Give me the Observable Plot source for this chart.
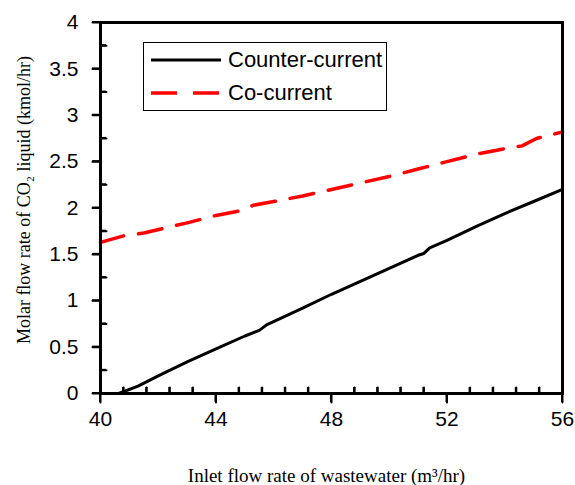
<!DOCTYPE html>
<html><head><meta charset="utf-8">
<script src="https://cdn.jsdelivr.net/npm/d3@7"></script>
<script src="https://cdn.jsdelivr.net/npm/@observablehq/plot@0.6"></script>
<style>
body{margin:0;background:#fff;}
#wrap{position:relative;width:575px;height:485px;}
#legend{position:absolute;left:143px;top:42px;width:244px;height:69px;box-sizing:border-box;border:1.5px solid #000;background:#fff;font-family:"Liberation Sans",Arial,sans-serif;font-size:22px;color:#000;}
#legend .row{position:absolute;left:7px;height:24px;display:flex;align-items:center;}
#legend svg{margin-right:7px;}
</style>
</head><body>
<div id="wrap"></div>
<script>
// Series data
const counterX = [40.63, 41.3, 42, 43, 44, 45, 45.5, 45.75, 47, 48, 49, 50, 51, 51.2, 51.4, 52, 53, 54, 55, 56];
const counterY = [0, 0.08, 0.19, 0.34, 0.48, 0.62, 0.68, 0.74, 0.92, 1.07, 1.21, 1.35, 1.49, 1.51, 1.57, 1.65, 1.80, 1.94, 2.07, 2.20];
const coX = [40, 40.8, 41.5, 42.3, 43, 44, 44.85, 45.3, 46, 47, 48, 49, 50, 51, 52, 53, 54, 54.6, 55.1, 56];
const coY = [1.63, 1.70, 1.73, 1.79, 1.84, 1.92, 1.97, 2.03, 2.07, 2.13, 2.20, 2.27, 2.34, 2.42, 2.50, 2.58, 2.64, 2.67, 2.75, 2.82];
const seriesNames = ["Counter-current", "Co-current"];
const seriesColors = ["#000000", "#ff0000"];
const seriesDash = [null, "24,15"];
const xTicks = [40, 44, 48, 52, 56];
const xMinor = [40.8, 41.6, 42.4, 43.2, 44.8, 45.6, 46.4, 47.2, 48.8, 49.6, 50.4, 51.2, 52.8, 53.6, 54.4, 55.2];
const yTicks = [0, 0.5, 1, 1.5, 2, 2.5, 3, 3.5, 4];
const yMinor = [0.25, 0.75, 1.25, 1.75, 2.25, 2.75, 3.25, 3.75];
const xLabel = "Inlet flow rate of wastewater (m³/hr)";
const yLabel = "Molar flow rate of CO₂ liquid (kmol/hr)";

const counter = counterX.map((x, i) => ({x, y: counterY[i]}));
const co = coX.map((x, i) => ({x, y: coY[i]}));
const fmt = d3.format("~g");
const sans = "'Liberation Sans', Arial, sans-serif";
const serif = "'Liberation Serif', 'Times New Roman', serif";

// straight tick-line shape for vector marks
const tickShape = {draw(context, l) { context.moveTo(0, 0); context.lineTo(0, -l); }};
const tickStyle = {shape: tickShape, anchor: "start", stroke: "black", strokeWidth: 2};

const chart = Plot.plot({
  width: 575, height: 485,
  marginLeft: 100, marginRight: 13, marginTop: 22, marginBottom: 92,
  x: {domain: [40, 56], axis: null},
  y: {domain: [0, 4], axis: null},
  style: {fontFamily: sans, fontSize: "21px", background: "white", color: "black"},
  marks: [
    // tick lines: major outward, minor inward
    Plot.vector(yTicks, {y: d => d, frameAnchor: "left", rotate: -90, length: 8, ...tickStyle}),
    Plot.vector(yMinor, {y: d => d, frameAnchor: "left", rotate: 90, length: 6, ...tickStyle}),
    Plot.vector(xTicks, {x: d => d, frameAnchor: "bottom", rotate: 180, length: 9, ...tickStyle}),
    Plot.vector(xMinor, {x: d => d, frameAnchor: "bottom", rotate: 0, length: 6, ...tickStyle}),
    // tick labels
    Plot.text(yTicks, {y: d => d, text: d => fmt(d), frameAnchor: "left", dx: -22, textAnchor: "end", fill: "black", fontSize: 21, fontFamily: sans}),
    Plot.text(xTicks, {x: d => d, text: d => fmt(d), frameAnchor: "bottom", dy: 18, lineAnchor: "top", fill: "black", fontSize: 21, fontFamily: sans}),
    // axis titles
    Plot.text([yLabel], {text: d => d, frameAnchor: "left", dx: -83, dy: -8, rotate: -90, textAnchor: "middle", lineAnchor: "top", fill: "black", fontSize: 18, fontFamily: serif}),
    Plot.text([xLabel], {text: d => d, frameAnchor: "bottom", dx: -5, dy: 88, textAnchor: "middle", lineAnchor: "bottom", fill: "black", fontSize: 19, fontFamily: serif}),
    // series
    Plot.line(counter, {x: "x", y: "y", stroke: seriesColors[0], strokeWidth: 3}),
    Plot.line(co, {x: "x", y: "y", stroke: seriesColors[1], strokeWidth: 3.5, strokeDasharray: seriesDash[1]}),
    Plot.frame({stroke: "black", strokeWidth: 3})
  ]
});
const wrap = document.getElementById("wrap");
wrap.appendChild(chart);

// backup tick lines placed through Plot's own scales
const sx = chart.scale("x"), sy = chart.scale("y");
const x0 = sx.apply(40), y0 = sy.apply(0);
const tg = d3.select(chart).append("g").attr("stroke", "black").attr("stroke-width", 2);
yTicks.forEach(v => tg.append("line").attr("x1", x0 - 8).attr("x2", x0).attr("y1", sy.apply(v)).attr("y2", sy.apply(v)));
yMinor.forEach(v => tg.append("line").attr("x1", x0).attr("x2", x0 + 6).attr("y1", sy.apply(v)).attr("y2", sy.apply(v)));
xTicks.forEach(v => tg.append("line").attr("x1", sx.apply(v)).attr("x2", sx.apply(v)).attr("y1", y0).attr("y2", y0 + 9));
xMinor.forEach(v => tg.append("line").attr("x1", sx.apply(v)).attr("x2", sx.apply(v)).attr("y1", y0).attr("y2", y0 - 6));

const legend = d3.select(wrap).append("div").attr("id", "legend");
seriesNames.forEach((name, i) => {
  const row = legend.append("div").attr("class", "row").style("top", (i === 0 ? 5 : 38) + "px");
  const s = row.append("svg").attr("width", 70).attr("height", 10);
  s.append("line").attr("x1", 0).attr("x2", 70).attr("y1", 5).attr("y2", 5)
    .attr("stroke", seriesColors[i]).attr("stroke-width", i === 0 ? 3 : 3.5)
    .attr("stroke-dasharray", seriesDash[i] ? "26,16" : null);
  row.append("span").text(name);
});
</script>
</body></html>
